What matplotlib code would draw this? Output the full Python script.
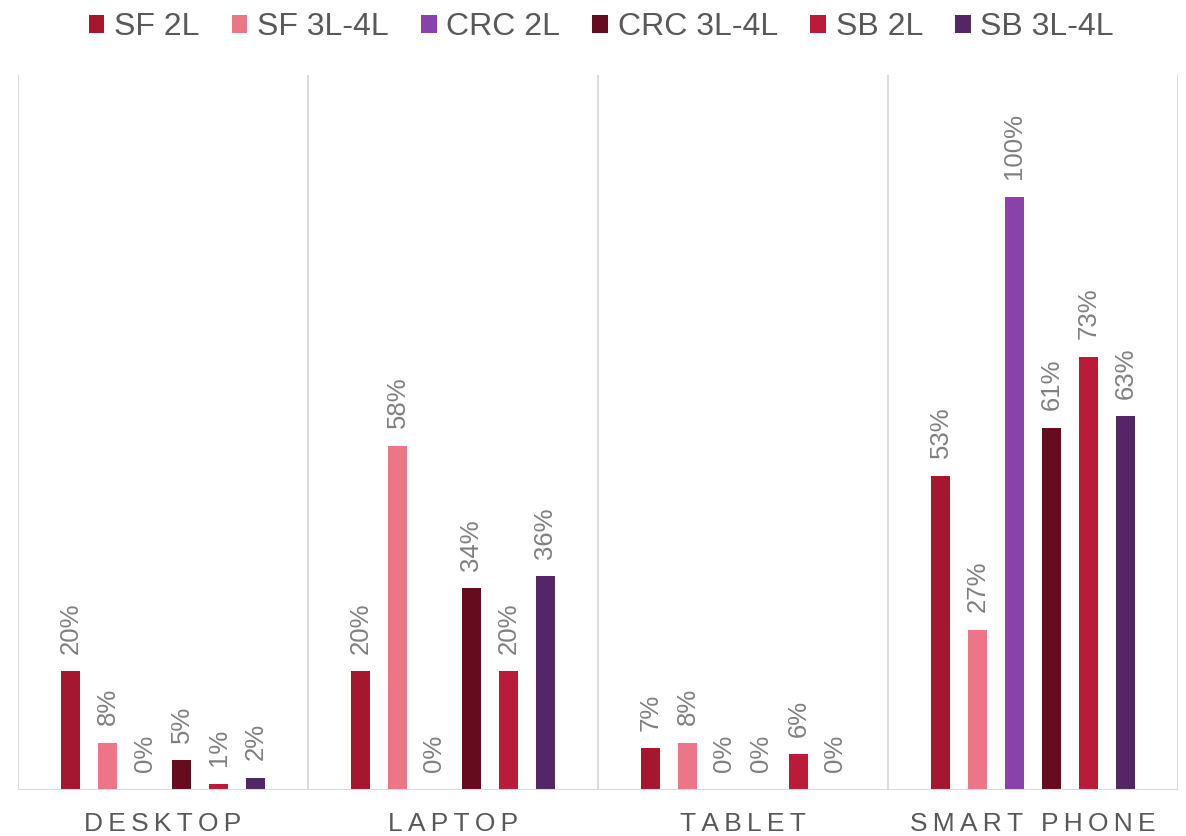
import numpy as np
import matplotlib.pyplot as plt
from matplotlib.patches import Patch

plt.rcParams['font.family'] = ['Liberation Sans', 'DejaVu Sans']

categories = ["DESKTOP", "LAPTOP", "TABLET", "SMART PHONE"]
series = ["SF 2L", "SF 3L-4L", "CRC 2L", "CRC 3L-4L", "SB 2L", "SB 3L-4L"]
values = {
    "SF 2L":     [20, 20, 7, 53],
    "SF 3L-4L":  [8, 58, 8, 27],
    "CRC 2L":    [0, 0, 0, 100],
    "CRC 3L-4L": [5, 34, 0, 61],
    "SB 2L":     [1, 20, 6, 73],
    "SB 3L-4L":  [2, 36, 0, 63],
}
colors = ["#A4172F", "#EC7588", "#8A42AB", "#650C1F", "#B91B38", "#532667"]

fig = plt.figure(figsize=(11.86, 8.36), dpi=100)
ax = fig.add_axes([0.0152, 0.055, 0.978, 0.855])

x = np.arange(len(categories))
step = 0.1276
width = 0.066
for i, s in enumerate(series):
    pos = x + (i - 2.5) * step
    vals = values[s]
    ax.bar(pos, vals, width=width, color=colors[i], label=s, zorder=3)
    for px, v in zip(pos, vals):
        ax.text(px, v + 3.0, f"{v}%", rotation=90, ha="center", va="bottom",
                fontsize=18.5, color="#808080")

ax.set_xlim(-0.5, len(categories) - 0.5)
ax.set_ylim(0, 120.5)
ax.set_yticks([])
for b in np.arange(-0.5, len(categories), 1):
    ax.axvline(b, color="#D9D9D9", linewidth=1.3, zorder=1)
for sp in ax.spines.values():
    sp.set_visible(False)
ax.axhline(0, color="#D9D9D9", linewidth=1.5, zorder=4)

ax.set_xticks(x)
ax.set_xticklabels(["\u2009".join(c) for c in categories], fontsize=19, color="#595959")
ax.tick_params(axis="x", length=0, pad=16)

handles = [Patch(facecolor=c, label=s) for s, c in zip(series, colors)]
leg = fig.legend(handles=handles, loc="upper center", bbox_to_anchor=(0.507, 1.02), ncol=6,
                 frameon=False, fontsize=23, handlelength=0.5, handleheight=0.5,
                 handletextpad=0.3, columnspacing=1.0)
for t in leg.get_texts():
    t.set_color("#595959")

fig.savefig("out.png", dpi=100)
